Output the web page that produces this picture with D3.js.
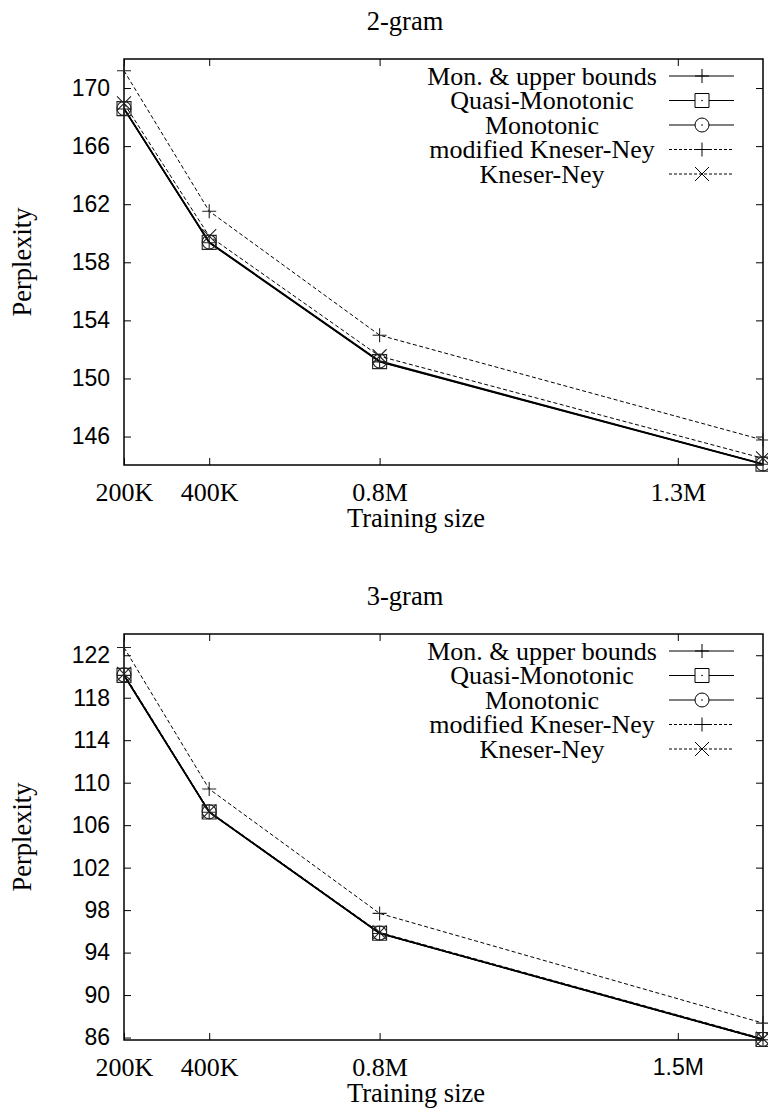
<!DOCTYPE html>
<html>
<head>
<meta charset="utf-8">
<script src="https://cdn.jsdelivr.net/npm/d3@7/dist/d3.min.js"></script>
<style>
  html, body { margin: 0; padding: 0; background: #fff; }
  svg { display: block; }
</style>
</head>
<body>
<svg id="chart" width="768" height="1115"></svg>
<script>
const SERIF = "'Liberation Serif', 'Times New Roman', serif";
const SANS = "'Liberation Sans', Arial, sans-serif";

// training sizes in thousands of words
const trainingSizes = [200, 400, 800, 1700];

const seriesNames = [
  "Mon. & upper bounds",
  "Quasi-Monotonic",
  "Monotonic",
  "modified Kneser-Ney",
  "Kneser-Ney"
];
const seriesMarkers = ["plus", "square", "circle", "plus", "cross"];
const seriesDashed = [false, false, false, true, true];

// 2-gram perplexities
const bigramMonUpper = [168.56, 159.35, 151.14, 144.09];
const bigramQuasi = [168.58, 159.37, 151.16, 144.1];
const bigramMono = [168.6, 159.4, 151.2, 144.12];
const bigramModKN = [171.19, 161.52, 152.98, 145.76];
const bigramKN = [168.94, 159.8, 151.53, 144.5];

// 3-gram perplexities
const trigramMonUpper = [120.1, 107.22, 95.8, 85.8];
const trigramQuasi = [120.1, 107.24, 95.82, 85.82];
const trigramMono = [120.15, 107.26, 95.84, 85.84];
const trigramModKN = [122.73, 109.4, 97.69, 87.36];
const trigramKN = [120.25, 107.3, 95.9, 85.9];

const bigramYTicks = [146, 150, 154, 158, 162, 166, 170];
const trigramYTicks = [86, 90, 94, 98, 102, 106, 110, 114, 118, 122];
const xTickValues = [200, 400, 800, 1500];
const bigramXLabels = ["200K", "400K", "0.8M", "1.3M"];
const trigramXLabels = ["200K", "400K", "0.8M", "1.5M"];

const svg = d3.select("#chart");

const markerPath = (type, r) => {
  const p = d3.path();
  if (type === "plus") {
    p.moveTo(-r, 0); p.lineTo(r, 0);
    p.moveTo(0, -r); p.lineTo(0, r);
  } else if (type === "cross") {
    p.moveTo(-r, -r); p.lineTo(r, r);
    p.moveTo(r, -r); p.lineTo(-r, r);
  } else if (type === "square") {
    p.rect(-r, -r, 2 * r, 2 * r);
  } else if (type === "circle") {
    p.arc(0, 0, r, 0, 2 * Math.PI);
  }
  return p.toString();
};

const drawPanel = ({ top, title, yDomain, yTicks, xLabels, sansLast, series }) => {
  const left = 124, right = 763, height = 406;
  const x = d3.scaleLinear().domain([200, 1700]).range([left, right]);
  const y = d3.scaleLinear().domain(yDomain).range([top + height, top]);
  const g = svg.append("g");

  g.append("text")
    .attr("font-family", SERIF)
    .attr("x", 405).attr("y", top - 29)
    .attr("text-anchor", "middle")
    .attr("font-size", 26.5)
    .text(title);

  // axes with inward ticks, mirrored on the opposite sides
  const xAxis = g.append("g").attr("transform", `translate(0,${top + height})`)
    .call(d3.axisBottom(x).tickValues(xTickValues).tickSize(-7).tickFormat((d, i) => xLabels[i]));
  xAxis.selectAll("text")
    .attr("font-family", (d, i) => (sansLast && i === xLabels.length - 1 ? SANS : SERIF))
    .attr("font-size", (d, i) => (sansLast && i === xLabels.length - 1 ? 23 : 26))
    .attr("y", 27).attr("dy", "0.35em").attr("fill", "#000");
  g.append("g").attr("transform", `translate(0,${top})`)
    .call(d3.axisTop(x).tickValues(xTickValues).tickSize(-7).tickFormat(""));

  const yAxis = g.append("g").attr("transform", `translate(${left},0)`)
    .call(d3.axisLeft(y).tickValues(yTicks).tickSize(-7).tickPadding(14));
  yAxis.selectAll("text")
    .attr("font-family", SANS).attr("font-size", 23).attr("fill", "#000");
  g.append("g").attr("transform", `translate(${right},0)`)
    .call(d3.axisRight(y).tickValues(yTicks).tickSize(-7).tickFormat(""));

  g.selectAll(".domain").remove();
  g.selectAll(".tick line").attr("stroke", "#000").attr("stroke-width", 1);

  g.append("rect")
    .attr("x", left).attr("y", top)
    .attr("width", right - left).attr("height", height)
    .attr("fill", "none").attr("stroke", "#000").attr("stroke-width", 1.5);

  g.append("text")
    .attr("font-family", SERIF)
    .attr("x", 416).attr("y", top + height + 53)
    .attr("dy", "0.35em")
    .attr("text-anchor", "middle")
    .attr("font-size", 26.5)
    .text("Training size");

  g.append("text")
    .attr("font-family", SERIF)
    .attr("transform", `translate(31,${top + height / 2}) rotate(-90)`)
    .attr("text-anchor", "middle")
    .attr("font-size", 26.5)
    .text("Perplexity");

  const line = d3.line().x((d, i) => x(trainingSizes[i])).y((d) => y(d));

  // dashed series first, solids on top
  const order = [3, 4, 0, 1, 2];
  order.forEach((si) => {
    g.append("path")
      .datum(series[si])
      .attr("d", line)
      .attr("fill", "none")
      .attr("stroke", "#000")
      .attr("stroke-width", seriesDashed[si] ? 1 : 1.4)
      .attr("stroke-dasharray", seriesDashed[si] ? "4,2.5" : null);
  });
  order.forEach((si) => {
    g.selectAll(null)
      .data(series[si])
      .enter()
      .append("path")
      .attr("transform", (d, i) => `translate(${x(trainingSizes[i])},${y(d)})`)
      .attr("d", markerPath(seriesMarkers[si], 7))
      .attr("fill", "none")
      .attr("stroke", "#222")
      .attr("stroke-width", 1.1);
  });

  // legend
  const legend = g.append("g");
  seriesNames.forEach((name, i) => {
    const ly = top + 17 + i * 24.5;
    legend.append("text")
      .attr("font-family", SERIF)
      .attr("x", 542).attr("y", ly)
      .attr("dy", "0.33em")
      .attr("text-anchor", "middle")
      .attr("font-size", 26)
      .text(name);
    legend.append("line")
      .attr("x1", 669).attr("x2", 734)
      .attr("y1", ly).attr("y2", ly)
      .attr("stroke", "#000")
      .attr("stroke-width", seriesDashed[i] ? 1 : 1.2)
      .attr("stroke-dasharray", seriesDashed[i] ? "3,2" : null);
    legend.append("path")
      .attr("transform", `translate(702,${ly})`)
      .attr("d", markerPath(seriesMarkers[i], 7))
      .attr("fill", seriesMarkers[i] === "square" || seriesMarkers[i] === "circle" ? "#fff" : "none")
      .attr("stroke", "#000")
      .attr("stroke-width", 1);
    if (seriesMarkers[i] === "square" || seriesMarkers[i] === "circle") {
      legend.append("circle").attr("cx", 702).attr("cy", ly).attr("r", 0.8).attr("fill", "#000");
    }
  });
};

drawPanel({
  top: 59,
  title: "2-gram",
  yDomain: [144.04, 172],
  yTicks: bigramYTicks,
  xLabels: bigramXLabels,
  sansLast: false,
  series: [bigramMonUpper, bigramQuasi, bigramMono, bigramModKN, bigramKN]
});

drawPanel({
  top: 634,
  title: "3-gram",
  yDomain: [85.77, 124],
  yTicks: trigramYTicks,
  xLabels: trigramXLabels,
  sansLast: true,
  series: [trigramMonUpper, trigramQuasi, trigramMono, trigramModKN, trigramKN]
});
</script>
</body>
</html>
